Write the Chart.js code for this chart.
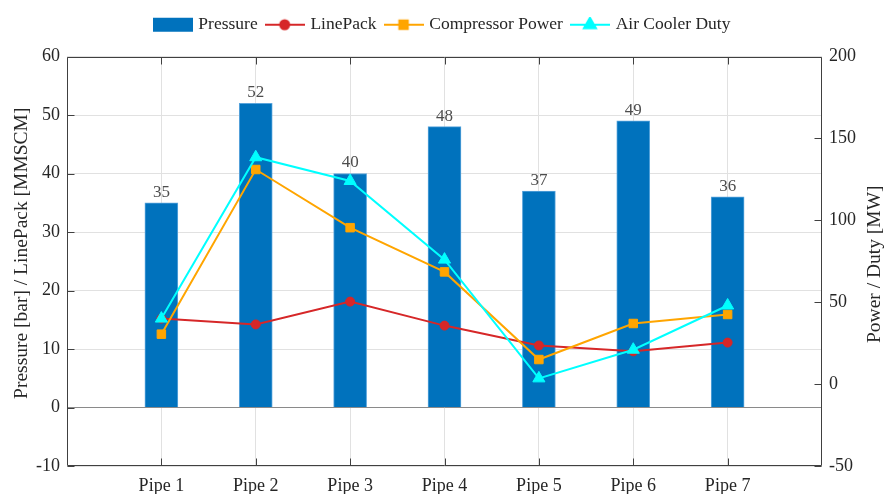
<!DOCTYPE html>
<html>
<head>
<meta charset="utf-8">
<script src="https://cdn.jsdelivr.net/npm/chart.js@4.4.1/dist/chart.umd.min.js"></script>
<style>
  html, body { margin: 0; padding: 0; background: #ffffff; }
  #wrap { width: 886px; height: 494px; }
</style>
</head>
<body>
<div id="wrap"><canvas id="chart" width="886" height="494"></canvas></div>
<script>
// ---- data ----
const categories = ['Pipe 1', 'Pipe 2', 'Pipe 3', 'Pipe 4', 'Pipe 5', 'Pipe 6', 'Pipe 7'];
const pressure = [35, 52, 40, 48, 37, 49, 36];                    // bar
const linePack = [15.2, 14.2, 18.1, 14.0, 10.6, 9.6, 11.1];        // bar / MMSCM axis
const compressorPower = [30.5, 131, 95.5, 68.5, 15, 37, 42.5];     // MW axis
const airCoolerDuty = [40, 138.5, 124, 76, 3.5, 21, 48];           // MW axis
const leftTicks = [-10, 0, 10, 20, 30, 40, 50, 60];
const rightTicks = [-50, 0, 50, 100, 150, 200];
const leftTitle = 'Pressure [bar] / LinePack [MMSCM]';
const rightTitle = 'Power / Duty [MW]';

// ---- styling ----
const SERIF = "'Liberation Serif', 'Times New Roman', serif";
const TEXT = '#262626';
const FRAME = '#404040';
const GRID = '#e1e1e1';
const BLUE = '#0072BD';
const RED = '#D62728';
const ORANGE = '#FFA500';
const CYAN = '#00FFFF';
const TICK_LEN = 7;

// one empty slot on each side keeps a half-gap of space around the pipes
const labels = ['', ...categories, ''];
const pad = arr => [null, ...arr, null];

function legendIcon(kind, color, pointStyle, radius) {
  const c = document.createElement('canvas');
  c.width = 40; c.height = 16;
  const g = c.getContext('2d');
  if (kind === 'bar') {
    g.fillStyle = color;
    g.fillRect(0, 1, 40, 14);
  } else {
    g.strokeStyle = color;
    g.lineWidth = 2;
    g.beginPath(); g.moveTo(0, 8); g.lineTo(40, 8); g.stroke();
    g.fillStyle = color;
    Chart.helpers.drawPoint(g, { pointStyle, radius, borderWidth: 1, rotation: 0 }, 20, 8);
    g.fill();
  }
  return c;
}

const icons = [
  legendIcon('bar', BLUE),
  legendIcon('line', RED, 'circle', 4.5),
  legendIcon('line', ORANGE, 'rect', 6),
  legendIcon('line', CYAN, 'triangle', 7)
];

// frame with inward ticks, bar value labels and axis titles
const decorations = {
  id: 'decorations',
  afterDraw(chart) {
    const { ctx, chartArea: a } = chart;
    const x = chart.scales.x, y = chart.scales.y, y1 = chart.scales.y1;
    const L = Math.round(a.left) + 0.5, R = Math.round(a.right) - 0.5;
    const T = Math.round(a.top) + 0.5, B = Math.round(a.bottom) - 0.5;
    ctx.save();
    ctx.strokeStyle = FRAME;
    ctx.lineWidth = 1;
    ctx.beginPath();
    ctx.rect(L, T, R - L, B - T);
    for (let i = 1; i < labels.length - 1; i++) {
      const px = Math.round(x.getPixelForTick(i)) + 0.5;
      ctx.moveTo(px, B); ctx.lineTo(px, B - TICK_LEN);
      ctx.moveTo(px, T); ctx.lineTo(px, T + TICK_LEN);
    }
    y.ticks.forEach(t => {
      const py = Math.round(y.getPixelForValue(t.value)) + 0.5;
      ctx.moveTo(L, py); ctx.lineTo(L + TICK_LEN, py);
    });
    y1.ticks.forEach(t => {
      const py = Math.round(y1.getPixelForValue(t.value)) + 0.5;
      ctx.moveTo(R, py); ctx.lineTo(R - TICK_LEN, py);
    });
    ctx.stroke();

    // value above each pressure bar
    const meta = chart.getDatasetMeta(0);
    ctx.fillStyle = '#4d4d4d';
    ctx.font = '17px ' + SERIF;
    ctx.textAlign = 'center';
    ctx.textBaseline = 'bottom';
    meta.data.forEach((bar, i) => {
      const v = chart.data.datasets[0].data[i];
      if (v === null || v === undefined) return;
      ctx.fillText(String(v), bar.x, bar.y - 2);
    });

    // axis titles, both reading bottom to top
    ctx.fillStyle = TEXT;
    ctx.font = '19.5px ' + SERIF;
    ctx.textBaseline = 'middle';
    const mid = (a.top + a.bottom) / 2;
    ctx.save();
    ctx.translate(22, mid - 8); ctx.rotate(-Math.PI / 2);
    ctx.fillText(leftTitle, 0, 0);
    ctx.restore();
    ctx.save();
    ctx.translate(875, mid + 3); ctx.rotate(-Math.PI / 2);
    ctx.fillText(rightTitle, 0, 0);
    ctx.restore();
    ctx.restore();
  }
};

new Chart(document.getElementById('chart'), {
  data: {
    labels,
    datasets: [
      {
        type: 'bar', label: 'Pressure', data: pad(pressure), yAxisID: 'y',
        backgroundColor: BLUE, borderColor: '#5aa5dc', borderWidth: 1,
        barThickness: 33, order: 10
      },
      {
        type: 'line', label: 'LinePack', data: pad(linePack), yAxisID: 'y',
        borderColor: RED, backgroundColor: RED, borderWidth: 2,
        pointStyle: 'circle', pointRadius: 4.5, pointBorderWidth: 1, order: 3
      },
      {
        type: 'line', label: 'Compressor Power', data: pad(compressorPower), yAxisID: 'y1',
        borderColor: ORANGE, backgroundColor: ORANGE, borderWidth: 2,
        pointStyle: 'rect', pointRadius: 6, pointBorderWidth: 1, order: 2
      },
      {
        type: 'line', label: 'Air Cooler Duty', data: pad(airCoolerDuty), yAxisID: 'y1',
        borderColor: CYAN, backgroundColor: CYAN, borderWidth: 2,
        pointStyle: 'triangle', pointRadius: 7, pointBorderWidth: 1, order: 1
      }
    ]
  },
  options: {
    responsive: false,
    animation: false,
    devicePixelRatio: 1,
    layout: { padding: { top: 6, left: 0, right: 0, bottom: 0 } },
    plugins: {
      tooltip: { enabled: false },
      // empty spacer between the legend and the plot frame
      subtitle: {
        display: true, text: '', weight: 500, position: 'top',
        font: { size: 10 }, padding: { top: 0, bottom: 1 }
      },
      legend: {
        position: 'top',
        align: 'center',
        labels: {
          usePointStyle: true,
          pointStyleWidth: 34,
          boxHeight: 16,
          padding: 10,
          color: TEXT,
          font: { family: SERIF, size: 17.5 },
          generateLabels(chart) {
            const items = Chart.defaults.plugins.legend.labels.generateLabels(chart);
            items.forEach(it => { it.pointStyle = icons[it.datasetIndex]; it.rotation = 0; });
            return items.sort((p, q) => p.datasetIndex - q.datasetIndex);
          }
        }
      }
    },
    scales: {
      x: {
        type: 'category',
        offset: false,
        border: { display: false },
        grid: {
          offset: false,
          drawTicks: false,
          color: c => (c.index === 0 || c.index === labels.length - 1) ? 'rgba(0,0,0,0)' : GRID
        },
        ticks: {
          autoSkip: false, maxRotation: 0, padding: 9,
          color: TEXT, font: { family: SERIF, size: 18 }
        },
        afterFit: s => { s.height = 28; }
      },
      y: {
        type: 'linear', position: 'left',
        min: -10, max: 60,
        border: { display: false },
        grid: {
          drawTicks: false,
          color: c => c.tick.value === 0 ? '#8a8a8a' : GRID
        },
        afterBuildTicks: s => { s.ticks = leftTicks.map(v => ({ value: v })); },
        ticks: { padding: 7, color: TEXT, font: { family: SERIF, size: 18 } },
        afterFit: s => { s.width = 67; }
      },
      y1: {
        type: 'linear', position: 'right',
        min: -50, max: 200,
        border: { display: false },
        grid: { display: false, drawTicks: false },
        afterBuildTicks: s => { s.ticks = rightTicks.map(v => ({ value: v })); },
        ticks: { padding: 7, color: TEXT, font: { family: SERIF, size: 18 } },
        afterFit: s => { s.width = 64; }
      }
    }
  },
  plugins: [decorations]
});
</script>
</body>
</html>
